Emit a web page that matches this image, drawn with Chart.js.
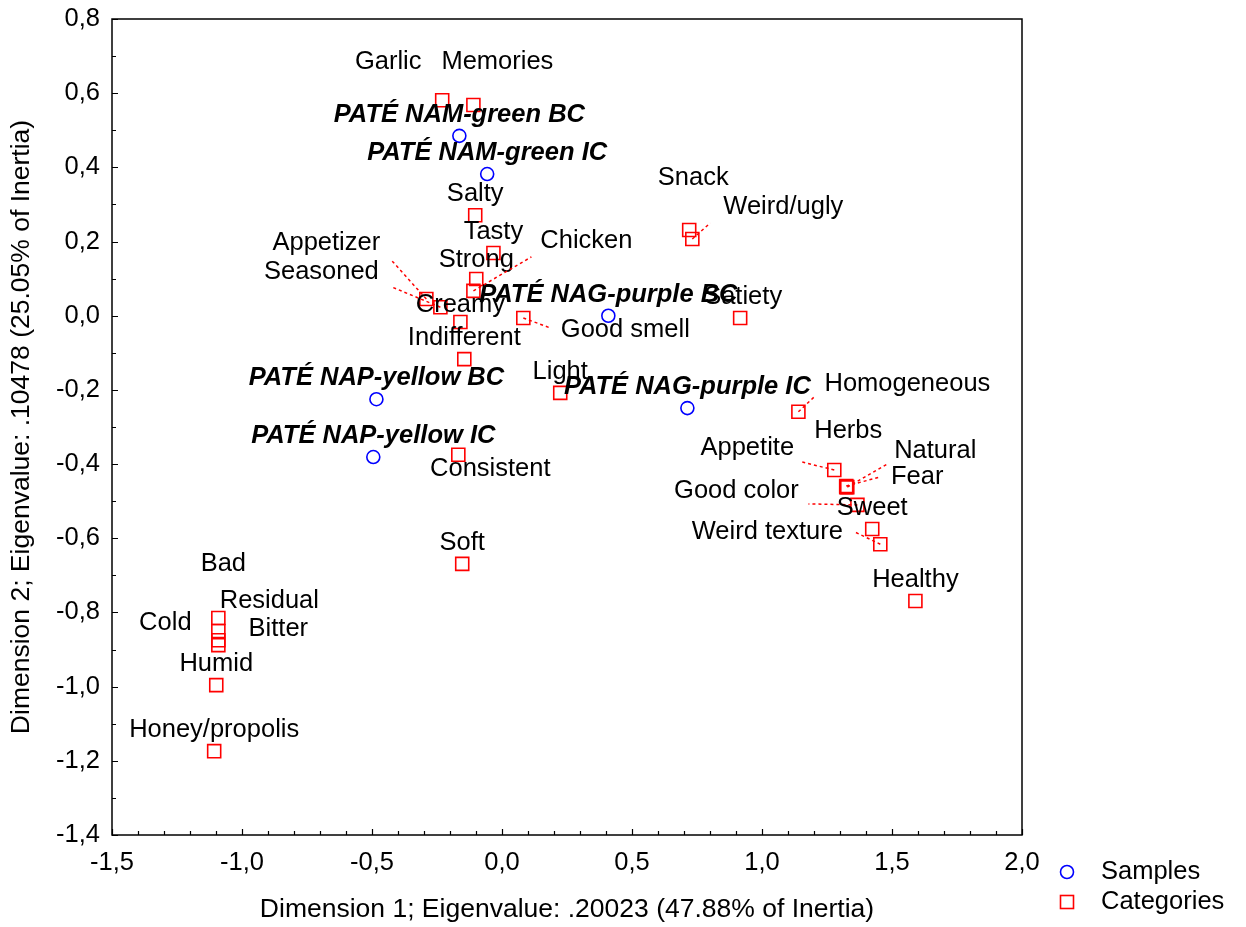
<!DOCTYPE html>
<html>
<head>
<meta charset="utf-8">
<script src="https://cdn.jsdelivr.net/npm/chart.js@4.4.1/dist/chart.umd.min.js"></script>
<style>
  body { margin: 0; background: #fff; }
  canvas { display: block; }
</style>
</head>
<body>
<canvas id="caChart" width="1246" height="927"></canvas>
<script>
// Data
const sampleNames = ["PATÉ NAM-green BC", "PATÉ NAM-green IC", "PATÉ NAG-purple BC",
  "PATÉ NAG-purple IC", "PATÉ NAP-yellow BC", "PATÉ NAP-yellow IC"];
const sampleX = [-0.164, -0.057, 0.409, 0.713, -0.483, -0.495];
const sampleY = [0.485, 0.382, 0.000, -0.249, -0.225, -0.381];

const categoryNames = ["Garlic", "Memories", "Salty", "Tasty", "Strong", "Chicken", "Appetizer",
  "Seasoned", "Creamy", "Indifferent", "Good smell", "Snack", "Weird/ugly", "Satiety", "Light",
  "Homogeneous", "Herbs", "Appetite", "Natural", "Fear", "Good color", "Sweet", "Weird texture",
  "Healthy", "Consistent", "Soft", "Bad", "Residual", "Cold", "Bitter", "Humid", "Honey/propolis"];
const categoryX = [-0.230, -0.110, -0.103, -0.033, -0.099, -0.110, -0.291,
  -0.237, -0.160, -0.145, 0.082, 0.720, 0.732, 0.916, 0.224,
  1.140, 1.324, 1.278, 1.328, 1.324, 1.367, 1.424, 1.455,
  1.590, -0.168, -0.153, -1.091, -1.091, -1.091, -1.091, -1.099, -1.107];
const categoryY = [0.581, 0.568, 0.271, 0.169, 0.099, 0.067, 0.045,
  0.023, -0.017, -0.117, -0.006, 0.231, 0.207, -0.006, -0.208,
  -0.259, -0.462, -0.416, -0.462, -0.459, -0.510, -0.575, -0.616,
  -0.769, -0.375, -0.669, -0.815, -0.850, -0.875, -0.888, -0.996, -1.174];

const xTicks = { min: -1.5, max: 2.0, step: 0.5 };
const yTicks = { min: -1.4, max: 0.8, step: 0.2 };

// label placement (pixels from the point), optional dashed leader end
const labelPos = {
  "Garlic": [-54, -38], "Memories": [24, -43], "Strong": [0, -19],
  "Chicken": [113, -50, 58, -34], "Appetizer": [-100, -56, -36, -40],
  "Seasoned": [-119, -35, -48, -20], "Creamy": [0, -17],
  "Good smell": [102, 12, 27, 10], "Snack": [4, -52], "Weird/ugly": [91, -32, 18, -16],
  "Satiety": [3, -21], "Homogeneous": [109, -28, 17, -16], "Herbs": [2, -56],
  "Appetite": [-87, -22, -32, -8], "Natural": [88, -36, 40, -23], "Fear": [71, -9, 34, -9],
  "Good color": [-121, -14, -49, -1], "Weird texture": [-113, -12, -25, -12],
  "Consistent": [32, 14], "Bad": [5, -54], "Residual": [51, -30], "Cold": [-53, -17],
  "Bitter": [60, -16]
};

const FONT = "'Liberation Sans', Arial, sans-serif";
const fmt = (v) => v.toFixed(1).replace(".", ",");

const pointLabels = {
  id: "pointLabels",
  afterDatasetsDraw(chart) {
    const c = chart.ctx;
    const area = chart.chartArea;
    const xs = chart.scales.x, ys = chart.scales.y;

    // frame
    c.save();
    c.strokeStyle = "#000";
    c.lineWidth = 1.5;
    c.strokeRect(area.left, area.top, area.right - area.left, area.bottom - area.top);

    // inward ticks, bottom and left
    c.lineWidth = 1.2;
    c.beginPath();
    for (let i = -15; i <= 20; i++) {
      const px = Math.round(xs.getPixelForValue(i / 10)) + 0.5;
      const len = i % 5 === 0 ? 6 : 4;
      c.moveTo(px, area.bottom);
      c.lineTo(px, area.bottom - len);
    }
    for (let i = -14; i <= 8; i++) {
      const py = Math.round(ys.getPixelForValue(i / 10)) + 0.5;
      const len = i % 2 === 0 ? 6 : 4;
      c.moveTo(area.left, py);
      c.lineTo(area.left + len, py);
    }
    c.stroke();

    // leader lines + labels
    c.textAlign = "center";
    c.textBaseline = "middle";
    chart.data.datasets.forEach((ds, di) => {
      const meta = chart.getDatasetMeta(di);
      const names = di === 0 ? sampleNames : categoryNames;
      meta.data.forEach((pt, i) => {
        const p = labelPos[names[i]] || [0, -21];
        if (p.length > 2) {
          c.save();
          c.strokeStyle = "#ff0000";
          c.lineWidth = 1.5;
          c.setLineDash([3, 3]);
          c.beginPath();
          c.moveTo(pt.x, pt.y);
          c.lineTo(pt.x + p[2], pt.y + p[3]);
          c.stroke();
          c.restore();
        }
        c.fillStyle = "#000";
        c.font = di === 0 ? "italic bold 25.5px " + FONT : "25.5px " + FONT;
        c.fillText(names[i], pt.x + p[0], pt.y + p[1]);
      });
    });

    // legend
    c.lineWidth = 1.6;
    c.strokeStyle = "#0000ff";
    c.beginPath();
    c.arc(1067, 872, 6.5, 0, Math.PI * 2);
    c.stroke();
    c.strokeStyle = "#ff0000";
    c.strokeRect(1060.5, 895.5, 13, 13);
    c.fillStyle = "#000";
    c.textAlign = "left";
    c.font = "25.5px " + FONT;
    c.fillText("Samples", 1101, 872);
    c.fillText("Categories", 1101, 902);
    c.restore();
  }
};

const ctx = document.getElementById("caChart").getContext("2d");
new Chart(ctx, {
  type: "scatter",
  data: {
    datasets: [
      {
        label: "Samples",
        data: sampleX.map((x, i) => ({ x: x, y: sampleY[i] })),
        pointStyle: "circle",
        pointRadius: 6.5,
        borderColor: "#0000ff",
        backgroundColor: "rgba(0,0,0,0)",
        borderWidth: 1.6,
      },
      {
        label: "Categories",
        data: categoryX.map((x, i) => ({ x: x, y: categoryY[i] })),
        pointStyle: "rect",
        pointRadius: 9.2,
        borderColor: "#ff0000",
        backgroundColor: "rgba(0,0,0,0)",
        borderWidth: 1.6,
      },
    ],
  },
  options: {
    responsive: false,
    animation: false,
    events: [],
    layout: { padding: { top: 19, right: 224, bottom: 0, left: 0 } },
    plugins: { legend: { display: false }, tooltip: { enabled: false } },
    scales: {
      x: {
        type: "linear",
        min: xTicks.min,
        max: xTicks.max,
        ticks: { stepSize: xTicks.step, callback: fmt, color: "#000", padding: 13, font: { family: FONT, size: 25.5 } },
        grid: { display: false, drawTicks: false },
        border: { display: false },
        title: { display: true, text: "Dimension 1; Eigenvalue: .20023 (47.88% of Inertia)", color: "#000",
          font: { family: FONT, size: 26.5 }, padding: { top: 0, bottom: 1 } },
        afterFit: (s) => { s.height = 92; s.paddingLeft = 0; s.paddingRight = 0; },
      },
      y: {
        type: "linear",
        min: yTicks.min,
        max: yTicks.max,
        ticks: { stepSize: yTicks.step, callback: fmt, color: "#000", padding: 12, font: { family: FONT, size: 25.5 } },
        grid: { display: false, drawTicks: false },
        border: { display: false },
        title: { display: true, text: "Dimension 2; Eigenvalue: .10478 (25.05% of Inertia)", color: "#000",
          font: { family: FONT, size: 26.5 }, padding: { top: 6, bottom: 0 } },
        afterFit: (s) => { s.width = 112; s.paddingTop = 0; s.paddingBottom = 0; },
      },
    },
  },
  plugins: [pointLabels],
});
</script>
</body>
</html>
